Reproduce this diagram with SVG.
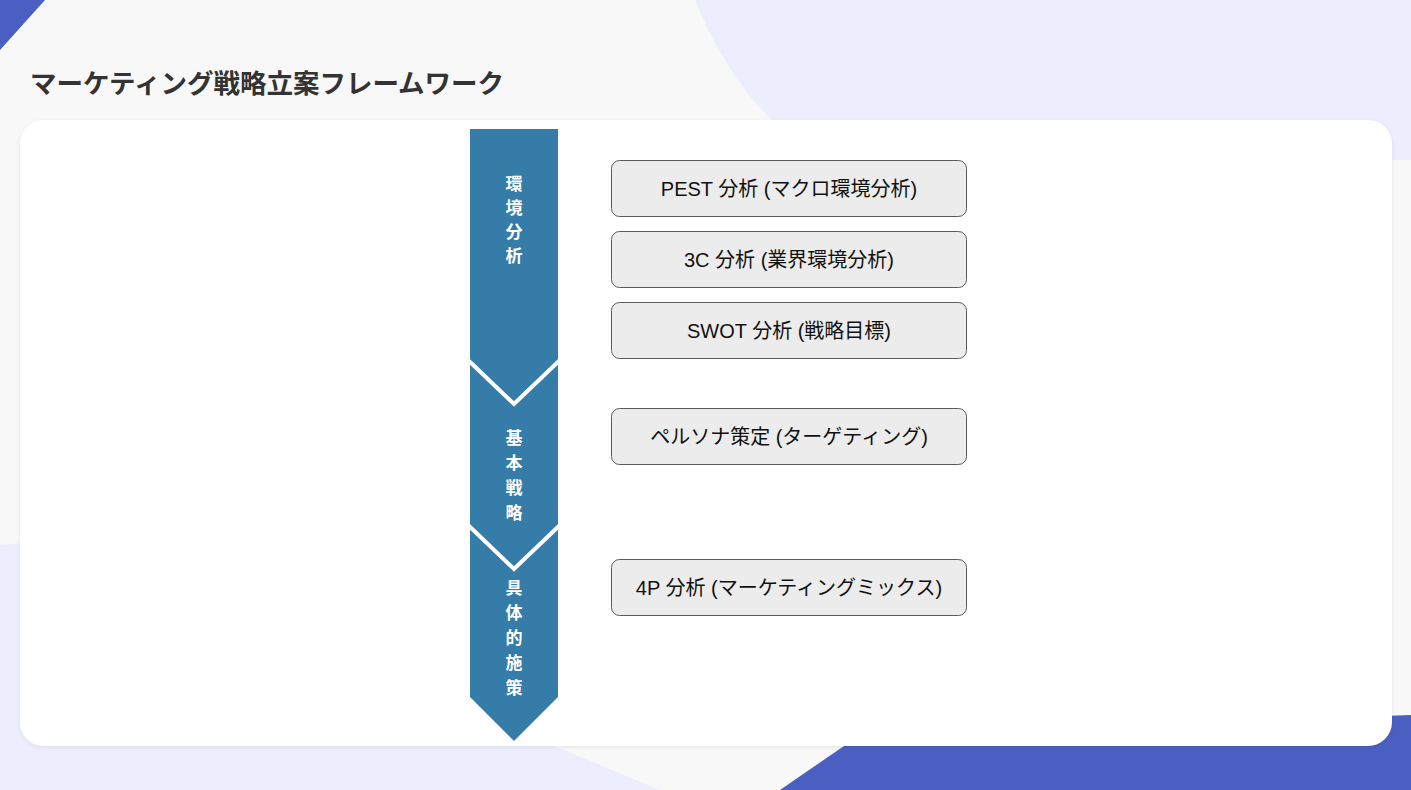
<svg xmlns="http://www.w3.org/2000/svg" width="1411" height="790" viewBox="0 0 1411 790">
<style>
.box{fill:#ececec;stroke:#5a5a5a;stroke-width:1}
.bt{font-family:"Liberation Sans","Noto Sans CJK JP",sans-serif;font-size:20px;fill:#111;text-anchor:middle}
.vt{font-family:"Noto Sans CJK JP",sans-serif;font-size:17px;font-weight:bold;fill:#fff;text-anchor:middle}
</style>
<defs><filter id="sh" x="-5%" y="-5%" width="110%" height="110%"><feDropShadow dx="0" dy="1" stdDeviation="2" flood-color="#000" flood-opacity="0.08"/></filter></defs>
<rect width="1411" height="790" fill="#f8f8f8"/>
<path d="M695,0 C740,110 800,150 840,160 L1411,160 L1411,0 Z" fill="#eceefd"/>
<path d="M0,545 L60,540 L660,790 L0,790 Z" fill="#eceefd"/>
<path d="M0,0 L45,0 L0,50 Z" fill="#4a5fc1"/>
<path d="M780,790 L860,735 L1411,715 L1411,790 Z" fill="#4a5fc1"/>
<rect x="20" y="120" width="1372" height="626" rx="24" fill="#fff" filter="url(#sh)"/>
<text x="30" y="93" font-family="'Noto Sans CJK JP',sans-serif" font-size="26.5" font-weight="bold" fill="#333">マーケティング戦略立案フレームワーク</text>
<g id="arrow">
<path d="M470,129 L558,129 L558,697 L514,741 L470,697 Z" fill="#357ca8"/>
<polyline points="468,360 514,404 560,360" fill="none" stroke="#fff" stroke-width="4"/>
<polyline points="468,525 514,569 560,525" fill="none" stroke="#fff" stroke-width="4"/>
<text class="vt"><tspan x="514" y="190">環</tspan><tspan x="514" y="214">境</tspan><tspan x="514" y="238">分</tspan><tspan x="514" y="262">析</tspan></text>
<text class="vt"><tspan x="514" y="444">基</tspan><tspan x="514" y="469">本</tspan><tspan x="514" y="494">戦</tspan><tspan x="514" y="519">略</tspan></text>
<text class="vt"><tspan x="514" y="594">具</tspan><tspan x="514" y="619">体</tspan><tspan x="514" y="644">的</tspan><tspan x="514" y="669">施</tspan><tspan x="514" y="694">策</tspan></text>
</g>
<g id="n1"><rect class="box" x="611.5" y="160.5" width="355" height="56" rx="8"/><text class="bt" x="789" y="196">PEST 分析 (マクロ環境分析)</text></g>
<g id="n2"><rect class="box" x="611.5" y="231.5" width="355" height="56" rx="8"/><text class="bt" x="789" y="267">3C 分析 (業界環境分析)</text></g>
<g id="n3"><rect class="box" x="611.5" y="302.5" width="355" height="56" rx="8"/><text class="bt" x="789" y="338">SWOT 分析 (戦略目標)</text></g>
<g id="n4"><rect class="box" x="611.5" y="408.5" width="355" height="56" rx="8"/><text class="bt" x="789" y="444">ペルソナ策定 (ターゲティング)</text></g>
<g id="n5"><rect class="box" x="611.5" y="559.5" width="355" height="56" rx="8"/><text class="bt" x="789" y="595">4P 分析 (マーケティングミックス)</text></g>
<g id="connectors"></g>
</svg>
